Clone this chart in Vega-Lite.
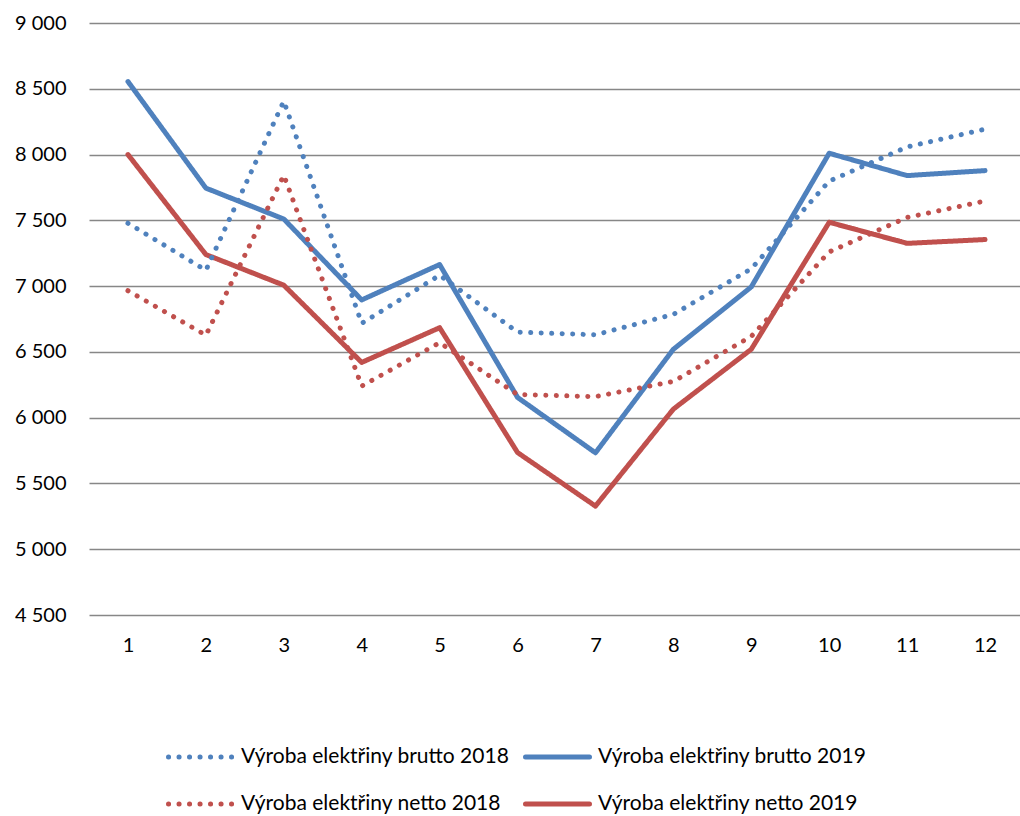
{
  "$schema": "https://vega.github.io/schema/vega-lite/v6.json",
  "autosize": "none",
  "width": 935,
  "height": 592,
  "padding": {"left": 89, "top": 23, "right": 0, "bottom": 201},
  "background": "white",
  "config": {"view": {"stroke": null}, "font": "Lato"},
  "data": {
    "values": [
      {"rad": "Výroba elektřiny brutto 2019", "mesiac": 1, "v": 8555},
      {"rad": "Výroba elektřiny brutto 2019", "mesiac": 2, "v": 7745},
      {"rad": "Výroba elektřiny brutto 2019", "mesiac": 3, "v": 7510},
      {"rad": "Výroba elektřiny brutto 2019", "mesiac": 4, "v": 6895},
      {"rad": "Výroba elektřiny brutto 2019", "mesiac": 5, "v": 7164},
      {"rad": "Výroba elektřiny brutto 2019", "mesiac": 6, "v": 6154},
      {"rad": "Výroba elektřiny brutto 2019", "mesiac": 7, "v": 5733},
      {"rad": "Výroba elektřiny brutto 2019", "mesiac": 8, "v": 6520},
      {"rad": "Výroba elektřiny brutto 2019", "mesiac": 9, "v": 6994},
      {"rad": "Výroba elektřiny brutto 2019", "mesiac": 10, "v": 8010},
      {"rad": "Výroba elektřiny brutto 2019", "mesiac": 11, "v": 7840},
      {"rad": "Výroba elektřiny brutto 2019", "mesiac": 12, "v": 7878},
      {"rad": "Výroba elektřiny netto 2019", "mesiac": 1, "v": 8000},
      {"rad": "Výroba elektřiny netto 2019", "mesiac": 2, "v": 7240},
      {"rad": "Výroba elektřiny netto 2019", "mesiac": 3, "v": 7007},
      {"rad": "Výroba elektřiny netto 2019", "mesiac": 4, "v": 6420},
      {"rad": "Výroba elektřiny netto 2019", "mesiac": 5, "v": 6684},
      {"rad": "Výroba elektřiny netto 2019", "mesiac": 6, "v": 5735},
      {"rad": "Výroba elektřiny netto 2019", "mesiac": 7, "v": 5328},
      {"rad": "Výroba elektřiny netto 2019", "mesiac": 8, "v": 6065},
      {"rad": "Výroba elektřiny netto 2019", "mesiac": 9, "v": 6520},
      {"rad": "Výroba elektřiny netto 2019", "mesiac": 10, "v": 7485},
      {"rad": "Výroba elektřiny netto 2019", "mesiac": 11, "v": 7325},
      {"rad": "Výroba elektřiny netto 2019", "mesiac": 12, "v": 7354},
      {"rad": "Výroba elektřiny brutto 2018", "mesiac": 1, "v": 7478},
      {"rad": "Výroba elektřiny brutto 2018", "mesiac": 2, "v": 7120},
      {"rad": "Výroba elektřiny brutto 2018", "mesiac": 3, "v": 8406},
      {"rad": "Výroba elektřiny brutto 2018", "mesiac": 4, "v": 6717},
      {"rad": "Výroba elektřiny brutto 2018", "mesiac": 5, "v": 7083},
      {"rad": "Výroba elektřiny brutto 2018", "mesiac": 6, "v": 6650},
      {"rad": "Výroba elektřiny brutto 2018", "mesiac": 7, "v": 6630},
      {"rad": "Výroba elektřiny brutto 2018", "mesiac": 8, "v": 6785},
      {"rad": "Výroba elektřiny brutto 2018", "mesiac": 9, "v": 7132},
      {"rad": "Výroba elektřiny brutto 2018", "mesiac": 10, "v": 7798},
      {"rad": "Výroba elektřiny brutto 2018", "mesiac": 11, "v": 8058},
      {"rad": "Výroba elektřiny brutto 2018", "mesiac": 12, "v": 8193},
      {"rad": "Výroba elektřiny netto 2018", "mesiac": 1, "v": 6965},
      {"rad": "Výroba elektřiny netto 2018", "mesiac": 2, "v": 6627},
      {"rad": "Výroba elektřiny netto 2018", "mesiac": 3, "v": 7843},
      {"rad": "Výroba elektřiny netto 2018", "mesiac": 4, "v": 6240},
      {"rad": "Výroba elektřiny netto 2018", "mesiac": 5, "v": 6570},
      {"rad": "Výroba elektřiny netto 2018", "mesiac": 6, "v": 6176},
      {"rad": "Výroba elektřiny netto 2018", "mesiac": 7, "v": 6160},
      {"rad": "Výroba elektřiny netto 2018", "mesiac": 8, "v": 6275},
      {"rad": "Výroba elektřiny netto 2018", "mesiac": 9, "v": 6618},
      {"rad": "Výroba elektřiny netto 2018", "mesiac": 10, "v": 7260},
      {"rad": "Výroba elektřiny netto 2018", "mesiac": 11, "v": 7522},
      {"rad": "Výroba elektřiny netto 2018", "mesiac": 12, "v": 7647}
    ]
  },
  "mark": {"type": "line", "strokeCap": "round", "strokeJoin": "round", "strokeWidth": 5},
  "encoding": {
    "x": {
      "field": "mesiac",
      "type": "ordinal",
      "title": null,
      "scale": {"type": "point", "padding": 0.5},
      "axis": {
        "labelAngle": 0,
        "labelFont": "Lato",
        "labelFontSize": 20,
        "labelColor": "black",
        "labelPadding": 20,
        "ticks": false,
        "tickSize": 0,
        "domain": false,
        "grid": false
      }
    },
    "y": {
      "field": "v",
      "type": "quantitative",
      "title": null,
      "scale": {"domain": [4500, 9000], "nice": false, "zero": false},
      "axis": {
        "values": [4500, 5000, 5500, 6000, 6500, 7000, 7500, 8000, 8500, 9000],
        "labelExpr": "replace(format(datum.value, ','), ',', ' ')",
        "labelFont": "Lato",
        "labelFontSize": 20,
        "labelColor": "black",
        "labelPadding": 23,
        "ticks": false,
        "tickSize": 0,
        "domain": false,
        "grid": true,
        "gridColor": "#878787",
        "gridWidth": 1.4
      }
    },
    "color": {
      "field": "rad",
      "type": "nominal",
      "title": null,
      "scale": {
        "domain": ["Výroba elektřiny brutto 2018", "Výroba elektřiny brutto 2019", "Výroba elektřiny netto 2018", "Výroba elektřiny netto 2019"],
        "range": ["#4F81BD", "#4F81BD", "#C0504D", "#C0504D"]
      },
      "legend": {
        "orient": "none",
        "legendX": 77,
        "legendY": 724,
        "direction": "horizontal",
        "columns": 2,
        "padding": 0,
        "symbolType": "stroke",
        "symbolSize": 4096,
        "symbolStrokeWidth": 5,
        "clipHeight": 20,
        "rowPadding": 26,
        "columnPadding": 13,
        "labelOffset": 6,
        "labelFont": "Lato",
        "labelFontSize": 21,
        "labelColor": "black",
        "labelLimit": 500,
        "encoding": {"symbols": {"strokeCap": {"value": "round"}}}
      }
    },
    "strokeDash": {
      "field": "rad",
      "type": "nominal",
      "title": null,
      "scale": {
        "domain": ["Výroba elektřiny brutto 2018", "Výroba elektřiny brutto 2019", "Výroba elektřiny netto 2018", "Výroba elektřiny netto 2019"],
        "range": [[0.1, 10.4], [1, 0], [0.1, 10.4], [1, 0]]
      },
      "legend": {
        "orient": "none",
        "legendX": 77,
        "legendY": 724,
        "direction": "horizontal",
        "columns": 2,
        "padding": 0,
        "symbolType": "stroke",
        "symbolSize": 4096,
        "symbolStrokeWidth": 5,
        "clipHeight": 20,
        "rowPadding": 26,
        "columnPadding": 13,
        "labelOffset": 6,
        "labelFont": "Lato",
        "labelFontSize": 21,
        "labelColor": "black",
        "labelLimit": 500,
        "encoding": {"symbols": {"strokeCap": {"value": "round"}}}
      }
    }
  }
}
